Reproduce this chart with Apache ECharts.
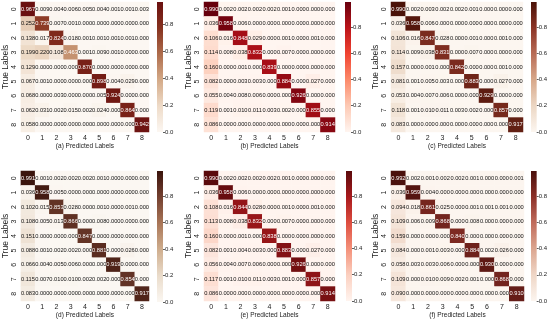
<!DOCTYPE html>
<html>
<head>
<meta charset="utf-8">
<script src="https://cdn.jsdelivr.net/npm/echarts@6/dist/echarts.min.js"></script>
<style>html,body{margin:0;padding:0;background:#fff;}#chart{width:550px;height:320px;}</style>
</head>
<body>
<div id="chart"></div>
<script>
const classLabels = ['0','1','2','3','4','5','6','7','8'];
const captions = ['(a) Predicted Labels','(b) Predicted Labels','(c) Predicted Labels','(d) Predicted Labels','(e) Predicted Labels','(f) Predicted Labels'];
const yName = 'True Labels';
const cbTicks = [0, 0.2, 0.4, 0.6, 0.8];

const matA = [
  [0.967,0.009,0.004,0.006,0.005,0.004,0.001,0.001,0.003],
  [0.252,0.739,0.007,0.001,0.000,0.000,0.000,0.000,0.000],
  [0.138,0.017,0.824,0.018,0.001,0.001,0.001,0.001,0.000],
  [0.199,0.220,0.108,0.463,0.001,0.009,0.001,0.000,0.000],
  [0.129,0.000,0.000,0.000,0.870,0.000,0.000,0.000,0.000],
  [0.067,0.001,0.000,0.000,0.000,0.898,0.004,0.029,0.000],
  [0.068,0.000,0.003,0.000,0.000,0.005,0.924,0.000,0.000],
  [0.062,0.031,0.002,0.015,0.002,0.024,0.000,0.864,0.000],
  [0.058,0.000,0.000,0.000,0.000,0.000,0.000,0.000,0.942]
];
const matB = [
  [0.990,0.002,0.002,0.002,0.002,0.001,0.000,0.000,0.000],
  [0.036,0.958,0.006,0.000,0.000,0.000,0.000,0.000,0.000],
  [0.106,0.016,0.848,0.029,0.000,0.001,0.000,0.001,0.000],
  [0.114,0.008,0.038,0.832,0.000,0.007,0.000,0.000,0.000],
  [0.160,0.000,0.001,0.000,0.839,0.000,0.000,0.000,0.000],
  [0.082,0.000,0.003,0.003,0.000,0.884,0.000,0.027,0.000],
  [0.055,0.004,0.008,0.006,0.000,0.000,0.926,0.000,0.000],
  [0.119,0.001,0.010,0.011,0.003,0.002,0.000,0.855,0.000],
  [0.086,0.000,0.000,0.000,0.000,0.000,0.000,0.000,0.914]
];
const matC = [
  [0.990,0.002,0.003,0.002,0.002,0.001,0.000,0.000,0.000],
  [0.036,0.958,0.006,0.000,0.000,0.000,0.000,0.000,0.000],
  [0.106,0.016,0.847,0.028,0.000,0.001,0.000,0.001,0.000],
  [0.114,0.009,0.038,0.831,0.000,0.007,0.000,0.000,0.000],
  [0.157,0.000,0.001,0.000,0.842,0.000,0.000,0.001,0.000],
  [0.081,0.001,0.005,0.003,0.000,0.883,0.000,0.027,0.000],
  [0.053,0.004,0.007,0.006,0.000,0.000,0.929,0.000,0.000],
  [0.118,0.001,0.010,0.011,0.003,0.002,0.000,0.857,0.000],
  [0.083,0.000,0.000,0.000,0.000,0.000,0.000,0.000,0.917]
];
const matD = [
  [0.991,0.001,0.002,0.002,0.002,0.001,0.000,0.000,0.000],
  [0.036,0.958,0.005,0.000,0.000,0.000,0.000,0.000,0.000],
  [0.102,0.015,0.853,0.028,0.000,0.001,0.000,0.001,0.000],
  [0.108,0.005,0.013,0.866,0.000,0.008,0.000,0.000,0.000],
  [0.151,0.000,0.000,0.000,0.847,0.000,0.000,0.000,0.000],
  [0.088,0.001,0.002,0.002,0.000,0.881,0.000,0.026,0.000],
  [0.066,0.004,0.005,0.006,0.000,0.000,0.919,0.000,0.000],
  [0.115,0.007,0.010,0.010,0.002,0.002,0.000,0.854,0.000],
  [0.083,0.000,0.000,0.000,0.000,0.000,0.000,0.000,0.917]
];
const matE = [
  [0.990,0.002,0.002,0.002,0.002,0.001,0.000,0.000,0.000],
  [0.036,0.958,0.006,0.000,0.000,0.000,0.000,0.000,0.000],
  [0.108,0.016,0.844,0.028,0.000,0.001,0.000,0.001,0.000],
  [0.113,0.008,0.038,0.832,0.000,0.007,0.000,0.000,0.000],
  [0.160,0.000,0.001,0.000,0.838,0.000,0.000,0.000,0.000],
  [0.082,0.001,0.004,0.003,0.000,0.883,0.000,0.027,0.000],
  [0.056,0.004,0.007,0.006,0.000,0.000,0.926,0.000,0.000],
  [0.117,0.001,0.010,0.011,0.003,0.001,0.000,0.857,0.000],
  [0.086,0.000,0.000,0.000,0.000,0.000,0.000,0.000,0.914]
];
const matF = [
  [0.992,0.002,0.001,0.002,0.002,0.001,0.000,0.000,0.001],
  [0.036,0.959,0.004,0.000,0.000,0.000,0.000,0.000,0.000],
  [0.094,0.018,0.861,0.025,0.000,0.001,0.001,0.001,0.000],
  [0.109,0.006,0.009,0.868,0.000,0.008,0.000,0.000,0.000],
  [0.159,0.000,0.000,0.000,0.840,0.000,0.000,0.000,0.000],
  [0.084,0.000,0.001,0.003,0.000,0.884,0.002,0.026,0.000],
  [0.058,0.003,0.003,0.006,0.000,0.000,0.930,0.000,0.000],
  [0.109,0.000,0.010,0.009,0.002,0.001,0.000,0.868,0.000],
  [0.090,0.000,0.000,0.000,0.000,0.000,0.000,0.000,0.910]
];
const matrices = [matA, matB, matC, matD, matE, matF];

// colour maps (low -> high)
const cmaps = [
  ['#fcf7f2','#eedbc8','#d4aa88','#ae6c4c','#86321f','#6a1010'],
  ['#fff5f0','#fdcab5','#fc8a6a','#f14432','#bc141a','#67000d'],
  ['#fcf6f0','#ecd7c4','#d8a88a','#b86c56','#8c3426','#4a1208'],
  ['#fbf7f2','#eadccb','#cfae8e','#a97658','#744030','#3a140c'],
  ['#fff4ef','#fbd0c0','#f4917a','#de4e40','#a8191c','#5a0a0c'],
  ['#fcf5ef','#efd6c6','#dca690','#c06c5c','#8c3028','#4a100c']
];

// panel layout (pixels)
const layout = [
  {left:18,  top:2,   w:131, h:130, cb:157},
  {left:204, top:2,   w:131, h:130, cb:345},
  {left:391, top:2,   w:132, h:130, cb:531},
  {left:18,  top:171, w:131, h:131, cb:157},
  {left:204, top:171, w:131, h:130, cb:346},
  {left:391, top:171, w:133, h:130, cb:531}
];

const FONT = 'Liberation Sans, Arial, sans-serif';
const grids = [], xAxes = [], yAxes = [], series = [], visualMaps = [];

matrices.forEach((m, i) => {
  const L = layout[i];
  const vmax = Math.max(...m.flat());
  grids.push({left:L.left, top:L.top, width:L.w, height:L.h});
  xAxes.push({
    type:'category', gridIndex:i, data:classLabels, position:'bottom',
    name:captions[i], nameLocation:'middle', nameGap:11,
    nameTextStyle:{fontSize:6.5, color:'#222', fontFamily:FONT},
    axisLine:{show:false}, axisTick:{show:false},
    axisLabel:{fontSize:7, color:'#222', margin:3, fontFamily:FONT},
    splitLine:{show:false}
  });
  yAxes.push({
    type:'category', gridIndex:i, data:classLabels, inverse:true,
    name:yName, nameLocation:'middle', nameRotate:90, nameGap:9,
    nameTextStyle:{fontSize:8.5, color:'#222', fontFamily:FONT},
    axisLine:{show:false}, axisTick:{show:false},
    axisLabel:{fontSize:7, color:'#222', margin:3, rotate:90, fontFamily:FONT},
    splitLine:{show:false}
  });
  const data = [];
  m.forEach((row, r) => row.forEach((v, c) => {
    const item = {value:[c, r, v]};
    if (r === c) item.label = {color:'#ffffff'};
    data.push(item);
  }));
  series.push({
    type:'heatmap', xAxisIndex:i, yAxisIndex:i, data:data,
    label:{show:true, fontSize:5.7, color:'#111', fontFamily:FONT,
      formatter:p => p.value[2].toFixed(3)},
    itemStyle:{borderWidth:0},
    emphasis:{disabled:true}, silent:true
  });
  visualMaps.push({
    type:'continuous', seriesIndex:i, dimension:2, min:0, max:vmax,
    inRange:{color:cmaps[i]}, show:false
  });
});

// colourbars: one bar spanning 0..max on its own axis, filled with the colour map
layout.forEach((L, i) => {
  const vmax = Math.max(...matrices[i].flat());
  const gi = grids.length;
  grids.push({left:L.cb, top:L.top, width:6, height:L.h});
  xAxes.push({type:'category', gridIndex:gi, show:false, data:['cb']});
  yAxes.push({
    type:'value', gridIndex:gi, min:0, max:vmax, interval:0.2, position:'right',
    axisLine:{show:false}, splitLine:{show:false},
    axisTick:{show:true, length:2, lineStyle:{color:'#333', width:0.8}},
    axisLabel:{fontSize:6, color:'#222', margin:2, showMaxLabel:false, fontFamily:FONT,
      formatter:v => cbTicks.some(t => Math.abs(t - v) < 1e-6) ? v.toFixed(1) : ''}
  });
  const stops = cmaps[i].map((c, k, arr) => ({offset:1 - k / (arr.length - 1), color:c}));
  series.push({
    type:'bar', xAxisIndex:gi, yAxisIndex:gi, data:[vmax], barWidth:'100%', silent:true,
    itemStyle:{color:{type:'linear', x:0, y:0, x2:0, y2:1, colorStops:stops.reverse()}}
  });
});

const chart = echarts.init(document.getElementById('chart'), null, {renderer:'canvas'});
chart.setOption({
  animation:false,
  backgroundColor:'#ffffff',
  textStyle:{fontFamily:FONT},
  grid:grids, xAxis:xAxes, yAxis:yAxes, visualMap:visualMaps, series:series
});
</script>
</body>
</html>
